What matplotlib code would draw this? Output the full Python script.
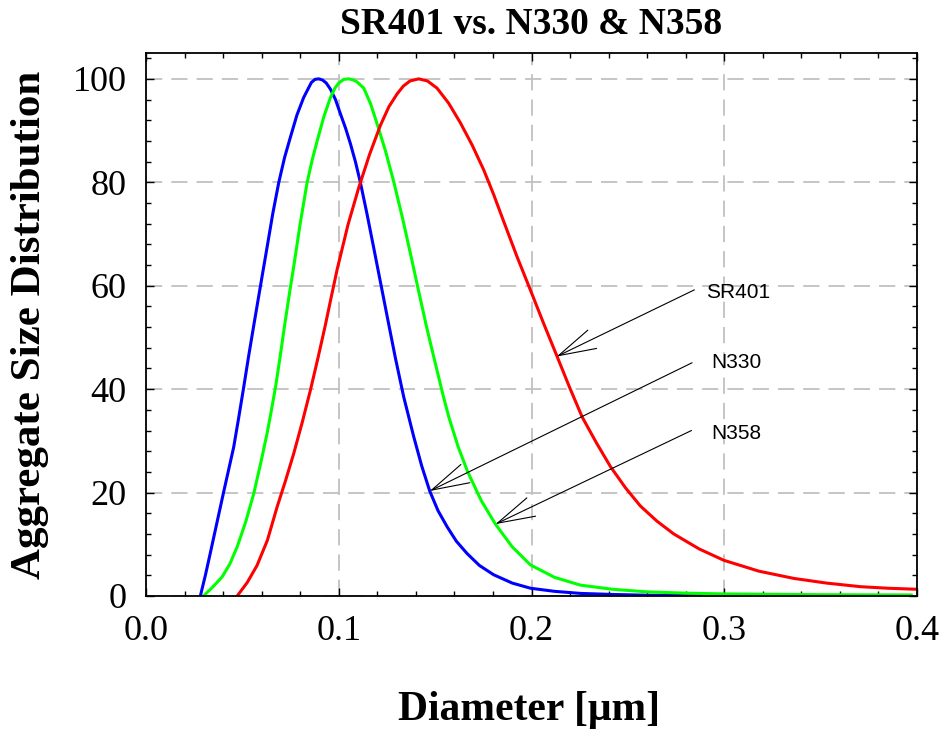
import matplotlib
matplotlib.use('Agg')
import matplotlib.pyplot as plt
from matplotlib.ticker import MultipleLocator

# N330 (blue)
n330_x = [0.0282, 0.0308, 0.0333, 0.0367, 0.0401, 0.0428, 0.0455, 0.0481, 0.0507, 0.0533,
          0.0559, 0.0594, 0.0628, 0.0658, 0.0689, 0.0719, 0.0749, 0.0783, 0.0818, 0.0858,
          0.0877, 0.0896, 0.0915, 0.0935, 0.0957, 0.0983, 0.1009, 0.1035, 0.1061, 0.1087,
          0.1112, 0.1147, 0.1181, 0.1220, 0.1260, 0.1294, 0.1337, 0.1389, 0.1430, 0.1472,
          0.1515, 0.1562, 0.1610, 0.1666, 0.1730, 0.1804, 0.1900, 0.1995, 0.2120, 0.2254,
          0.2420, 0.2600, 0.2880]
n330_y = [0.0, 4.0, 8.2, 14.0, 19.8, 24.3, 28.8, 34.5, 40.4, 46.5,
          52.3, 60.0, 67.4, 74.0, 80.0, 84.8, 88.7, 93.0, 96.4, 99.3,
          99.9, 100.0, 99.8, 99.2, 98.0, 96.0, 93.2, 90.5, 87.4, 83.9,
          80.0, 73.8, 67.4, 60.0, 52.4, 46.0, 38.5, 30.8, 25.2, 20.3,
          16.5, 13.4, 10.6, 8.2, 5.9, 4.1, 2.5, 1.5, 0.9, 0.5,
          0.3, 0.15, 0.05]

# N358 (green)
n358_x = [0.0299, 0.0320, 0.0340, 0.0368, 0.0395, 0.0435, 0.0473, 0.0517, 0.0559, 0.0594,
          0.0628, 0.0650, 0.0672, 0.0696, 0.0719, 0.0743, 0.0766, 0.0800, 0.0836, 0.0862,
          0.0888, 0.0922, 0.0957, 0.0980, 0.1000, 0.1026, 0.1052, 0.1075, 0.1095, 0.1130,
          0.1165, 0.1199, 0.1243, 0.1286, 0.1330, 0.1372, 0.1413, 0.1454, 0.1482, 0.1510,
          0.1540, 0.1571, 0.1620, 0.1669, 0.1740, 0.1813, 0.1900, 0.1995, 0.2120, 0.2254,
          0.2420, 0.2600, 0.2800, 0.3000, 0.3500, 0.3970]
n358_y = [0.0, 0.8, 1.5, 2.6, 3.7, 6.2, 9.5, 14.3, 19.8, 25.5,
          31.4, 35.8, 40.4, 46.3, 52.3, 58.2, 63.6, 72.0, 80.0, 84.3,
          88.0, 92.6, 96.4, 98.2, 99.2, 99.9, 100.0, 99.8, 99.4, 98.2,
          95.2, 91.3, 86.0, 80.0, 73.2, 66.2, 59.2, 52.3, 47.9, 43.6,
          39.0, 34.6, 28.8, 24.0, 18.4, 13.9, 9.5, 6.0, 3.6, 2.1,
          1.3, 0.8, 0.55, 0.4, 0.25, 0.2]

# SR401 (red)
sr401_x = [0.0473, 0.0525, 0.0576, 0.0630, 0.0680, 0.0723, 0.0766, 0.0810, 0.0853, 0.0892,
           0.0930, 0.0961, 0.0992, 0.1048, 0.1104, 0.1160, 0.1216, 0.1260, 0.1303, 0.1335,
           0.1370, 0.1415, 0.1460, 0.1510, 0.1570, 0.1631, 0.1692, 0.1752, 0.1804, 0.1856,
           0.1925, 0.1995, 0.2064, 0.2133, 0.2198, 0.2263, 0.2337, 0.2410, 0.2488, 0.2565,
           0.2650, 0.2738, 0.2870, 0.2998, 0.3180, 0.3361, 0.3530, 0.3707, 0.3850, 0.4000]
sr401_y = [0.0, 2.6, 5.9, 10.8, 17.2, 22.2, 27.5, 33.5, 39.8, 46.0,
           52.3, 57.8, 63.2, 71.8, 79.0, 85.4, 91.0, 94.6, 97.1, 98.6,
           99.6, 100.0, 99.6, 98.2, 95.3, 91.5, 87.2, 82.4, 77.6, 72.4,
           65.6, 59.1, 52.6, 46.3, 40.3, 34.6, 29.6, 25.0, 20.9, 17.4,
           14.5, 12.0, 9.1, 6.9, 4.8, 3.4, 2.5, 1.8, 1.5, 1.3]

labels = ['SR401', 'N330', 'N358']
label_xy = [(0.2906, 58.6), (0.2932, 45.2), (0.2932, 31.4)]
arrow_tail = [(0.2845, 59.2), (0.2833, 45.1), (0.2830, 32.0)]
arrow_tip = [(0.2130, 46.3), (0.1472, 20.3), (0.1813, 13.9)]

fig = plt.figure(figsize=(9.47, 7.33), dpi=100)
ax = fig.add_axes([146/947, 137/733, 771/947, 543/733])

ax.plot(n330_x, n330_y, color='#0000ff', lw=2.2)
ax.plot(n358_x, n358_y, color='#00ff00', lw=2.2)
ax.plot(sr401_x, sr401_y, color='#ff0000', lw=2.2)

for lab, txy, tail, tip in zip(labels, label_xy, arrow_tail, arrow_tip):
    ax.annotate('', xy=tip, xytext=tail,
                arrowprops=dict(arrowstyle='->, head_length=2.7, head_width=0.73',
                                lw=0.8, color='black', shrinkA=0, shrinkB=0,
                                mutation_scale=10))
    ax.text(txy[0], txy[1], lab, family='Liberation Sans', fontsize=15,
            va='center', ha='left')

ax.set_xlim(0, 0.4)
ax.set_ylim(0, 105)
ax.xaxis.set_major_locator(MultipleLocator(0.1))
ax.xaxis.set_minor_locator(MultipleLocator(0.02))
ax.yaxis.set_major_locator(MultipleLocator(20))
ax.yaxis.set_minor_locator(MultipleLocator(4))
ax.xaxis.set_major_formatter(plt.FuncFormatter(lambda v, p: '%.1f' % v))

ax.tick_params(which='both', direction='in', top=True, right=True, width=1.0)
ax.tick_params(which='major', length=6, labelsize=26, pad=14)
ax.tick_params(which='minor', length=3.6)
for lbl in ax.get_xticklabels() + ax.get_yticklabels():
    lbl.set_family('Liberation Serif')
for s in ax.spines.values():
    s.set_linewidth(1.3)

ax.grid(True, which='major', color='#c0c0c0', lw=1.3, linestyle=(0, (9, 5)))

ax.set_title('SR401 vs. N330 & N358', family='Liberation Serif', fontweight='bold',
             fontsize=27, pad=14)
ax.set_xlabel('Diameter [\u03bcm]', family='Liberation Serif', fontweight='bold',
              fontsize=30, va='center')
ax.xaxis.set_label_coords(0.497, (596 - 710) / 543)
ax.set_ylabel('Aggregate Size Distribution', family='Liberation Serif', fontweight='bold',
              fontsize=31, va='center')
ax.yaxis.set_label_coords((30 - 146) / 771, 0.50)

fig.savefig('out.png', dpi=100)
